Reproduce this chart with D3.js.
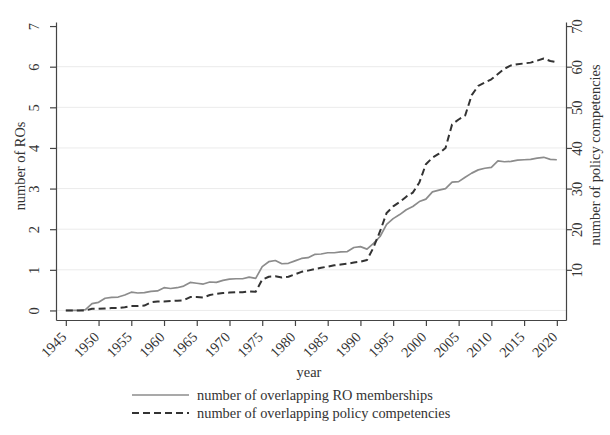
<!DOCTYPE html>
<html>
<head>
<meta charset="utf-8">
<script src="https://cdn.jsdelivr.net/npm/d3@7"></script>
<style>
  html, body { margin: 0; padding: 0; background: #fff; }
  svg { display: block; }
  text { font-family: "Liberation Serif", "Times New Roman", serif; fill: #333; }
</style>
</head>
<body>
<svg id="chart" width="610" height="435"></svg>
<script>
// Years covered by both series
const years = [
  1945, 1946, 1947, 1948, 1949, 1950, 1951, 1952, 1953, 1954,
  1955, 1956, 1957, 1958, 1959, 1960, 1961, 1962, 1963, 1964,
  1965, 1966, 1967, 1968, 1969, 1970, 1971, 1972, 1973, 1974,
  1975, 1976, 1977, 1978, 1979, 1980, 1981, 1982, 1983, 1984,
  1985, 1986, 1987, 1988, 1989, 1990, 1991, 1992, 1993, 1994,
  1995, 1996, 1997, 1998, 1999, 2000, 2001, 2002, 2003, 2004,
  2005, 2006, 2007, 2008, 2009, 2010, 2011, 2012, 2013, 2014,
  2015, 2016, 2017, 2018, 2019, 2020
];

// Average number of overlapping RO memberships (left axis)
const roMemberships = [
  0.00, 0.00, 0.00, 0.02, 0.17, 0.20, 0.30, 0.32, 0.33, 0.38,
  0.45, 0.43, 0.44, 0.47, 0.48, 0.56, 0.54, 0.56, 0.60, 0.69,
  0.67, 0.65, 0.70, 0.69, 0.74, 0.77, 0.78, 0.78, 0.82, 0.79,
  1.08, 1.20, 1.23, 1.15, 1.16, 1.22, 1.28, 1.30, 1.38, 1.39,
  1.42, 1.42, 1.44, 1.45, 1.55, 1.57, 1.51, 1.65, 1.82, 2.12,
  2.26, 2.36, 2.48, 2.56, 2.68, 2.74, 2.92, 2.96, 3.00, 3.16,
  3.17, 3.28, 3.38, 3.46, 3.50, 3.52, 3.68, 3.66, 3.67, 3.70,
  3.71, 3.72, 3.75, 3.77, 3.72, 3.71
];

// Average number of overlapping policy competencies (right axis)
const policyCompetencies = [
  0.0, 0.0, 0.0, 0.0, 0.4, 0.4, 0.5, 0.6, 0.6, 0.8,
  1.1, 1.1, 1.2, 2.0, 2.2, 2.2, 2.3, 2.4, 2.5, 3.3,
  3.3, 3.2, 3.8, 4.1, 4.3, 4.4, 4.5, 4.5, 4.7, 4.6,
  7.6, 8.3, 8.4, 8.1, 8.3, 8.9, 9.5, 9.8, 10.2, 10.5,
  10.8, 11.1, 11.3, 11.5, 11.8, 12.0, 12.4, 15.5, 19.5, 24.0,
  25.6, 26.7, 28.0, 29.0, 31.5, 36.0, 37.6, 38.6, 40.0, 45.8,
  47.0, 48.0, 53.0, 55.3, 56.1, 56.9, 58.2, 59.5, 60.3, 60.6,
  60.8, 61.0, 61.5, 62.0, 61.4, 61.1
];

// Axis tick labels
const xTickLabels = ["1945", "1950", "1955", "1960", "1965", "1970", "1975", "1980",
                     "1985", "1990", "1995", "2000", "2005", "2010", "2015", "2020"];
const leftTickLabels = ["0", "1", "2", "3", "4", "5", "6", "7"];
const rightTickLabels = ["10", "20", "30", "40", "50", "60", "70"];
const gridValues = [0, 1, 2, 3, 4, 5, 6];

const seriesNames = ["number of overlapping RO memberships",
                     "number of overlapping policy competencies"];

const svg = d3.select("#chart");
const plot = { left: 56, right: 566, top: 22, bottom: 320 };

const x = d3.scaleLinear().domain([1943.5, 2021.4]).range([plot.left, plot.right]);
const yL = d3.scaleLinear().domain([-0.235, 7.1]).range([plot.bottom, plot.top]);
const yR = d3.scaleLinear().domain([-2.35, 71]).range([plot.bottom, plot.top]);

const axisColor = "#444";
const fontSize = 14.4;

// Horizontal grid lines
svg.append("g")
  .selectAll("line")
  .data(gridValues)
  .join("line")
  .attr("x1", plot.left).attr("x2", plot.right)
  .attr("y1", d => yL(d)).attr("y2", d => yL(d))
  .attr("stroke", "#ebebeb").attr("stroke-width", 1);

// Left axis
const gLeft = svg.append("g")
  .attr("transform", `translate(${plot.left},0)`)
  .call(d3.axisLeft(yL)
    .tickValues(leftTickLabels.map(Number))
    .tickSize(6).tickSizeOuter(0).tickFormat(""));
gLeft.selectAll("path, line").attr("stroke", axisColor).attr("stroke-width", 1.2);
gLeft.selectAll(".tick")
  .append("text")
  .attr("transform", "translate(-17,0) rotate(-90)")
  .attr("text-anchor", "middle")
  .attr("font-size", fontSize)
  .text((d, i) => leftTickLabels[i]);

// Right axis
const gRight = svg.append("g")
  .attr("transform", `translate(${plot.right},0)`)
  .call(d3.axisRight(yR)
    .tickValues(rightTickLabels.map(Number))
    .tickSize(6).tickSizeOuter(0).tickFormat(""));
gRight.selectAll("path, line").attr("stroke", axisColor).attr("stroke-width", 1.2);
gRight.selectAll(".tick")
  .append("text")
  .attr("transform", "translate(16,0) rotate(-90)")
  .attr("text-anchor", "middle")
  .attr("font-size", fontSize)
  .text((d, i) => rightTickLabels[i]);

// Bottom axis with slanted year labels
const gBottom = svg.append("g")
  .attr("transform", `translate(0,${plot.bottom})`)
  .call(d3.axisBottom(x)
    .tickValues(xTickLabels.map(Number))
    .tickSize(6).tickSizeOuter(0).tickFormat(""));
gBottom.selectAll("path, line").attr("stroke", axisColor).attr("stroke-width", 1.2);
gBottom.selectAll(".tick")
  .append("text")
  .attr("transform", "translate(1,18) rotate(-45)")
  .attr("text-anchor", "end")
  .attr("font-size", fontSize)
  .text((d, i) => xTickLabels[i]);

// Axis titles
svg.append("text")
  .attr("transform", `translate(25,166) rotate(-90)`)
  .attr("text-anchor", "middle")
  .attr("font-size", fontSize)
  .text("number of ROs");

svg.append("text")
  .attr("transform", `translate(600,155) rotate(-90)`)
  .attr("text-anchor", "middle")
  .attr("font-size", fontSize)
  .text("number of policy competencies");

svg.append("text")
  .attr("x", 309).attr("y", 377)
  .attr("text-anchor", "middle")
  .attr("font-size", fontSize)
  .text("year");

// Series lines
const solidLine = d3.line()
  .x((d, i) => x(years[i]))
  .y(d => yL(d));
const dashedLine = d3.line()
  .x((d, i) => x(years[i]))
  .y(d => yR(d));

svg.append("path")
  .datum(roMemberships)
  .attr("d", solidLine)
  .attr("fill", "none")
  .attr("stroke", "#8c8c8c")
  .attr("stroke-width", 1.7)
  .attr("stroke-linejoin", "round");

svg.append("path")
  .datum(policyCompetencies)
  .attr("d", dashedLine)
  .attr("fill", "none")
  .attr("stroke", "#333")
  .attr("stroke-width", 2)
  .attr("stroke-dasharray", "7,4")
  .attr("stroke-linejoin", "round");

// Legend
const legend = svg.append("g");
const legendRows = [
  { name: seriesNames[0], y: 395, stroke: "#8c8c8c", width: 1.7, dash: null },
  { name: seriesNames[1], y: 413, stroke: "#333", width: 2, dash: "7,4" }
];
legendRows.forEach(r => {
  legend.append("line")
    .attr("x1", 132).attr("x2", 189)
    .attr("y1", r.y).attr("y2", r.y)
    .attr("stroke", r.stroke)
    .attr("stroke-width", r.width)
    .attr("stroke-dasharray", r.dash);
  legend.append("text")
    .attr("x", 197).attr("y", r.y + 4.5)
    .attr("font-size", fontSize)
    .text(r.name);
});
</script>
</body>
</html>
